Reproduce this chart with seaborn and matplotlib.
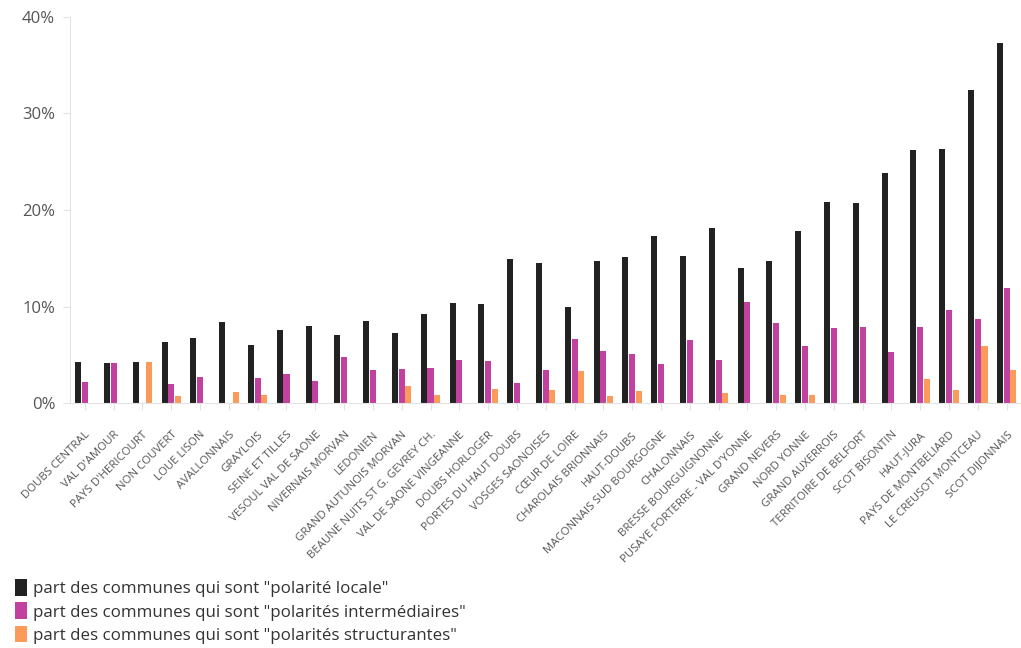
import numpy as np
import pandas as pd
import seaborn as sns
import matplotlib.pyplot as plt
from matplotlib.ticker import PercentFormatter

territoires = ["DOUBS CENTRAL", "VAL D'AMOUR", "PAYS D'HERICOURT", "NON COUVERT", "LOUE LISON",
               "AVALLONNAIS", "GRAYLOIS", "SEINE ET TILLES", "VESOUL VAL DE SAONE", "NIVERNAIS MORVAN",
               "LEDONIEN", "GRAND AUTUNOIS MORVAN", "BEAUNE NUITS ST G. GEVREY CH.", "VAL DE SAONE VINGEANNE",
               "DOUBS HORLOGER", "PORTES DU HAUT DOUBS", "VOSGES SAONOISES", "CŒUR DE LOIRE",
               "CHAROLAIS BRIONNAIS", "HAUT-DOUBS", "MACONNAIS SUD BOURGOGNE", "CHALONNAIS",
               "BRESSE BOURGUIGNONNE", "PUSAYE FORTERRE - VAL D'YONNE", "GRAND NEVERS", "NORD YONNE",
               "GRAND AUXERROIS", "TERRITOIRE DE BELFORT", "SCOT BISONTIN", "HAUT-JURA",
               "PAYS DE MONTBELIARD", "LE CREUSOT MONTCEAU", "SCOT DIJONNAIS"]

# valeurs en %
polarite_locale = [4.25, 4.15, 4.25, 6.36, 6.77, 8.36, 6.04, 7.56, 7.94, 7.05,
                   8.46, 7.29, 9.26, 10.36, 10.26, 14.89, 14.47, 9.98, 14.68, 15.16,
                   17.34, 15.27, 18.13, 13.99, 14.75, 17.86, 20.86, 20.76, 23.87, 26.25,
                   26.36, 32.4, 37.3]
polarites_intermediaires = [2.14, 4.15, 0.0, 1.97, 2.69, 0.0, 2.56, 2.97, 2.25, 4.77,
                            3.45, 3.56, 3.66, 4.46, 4.35, 2.04, 3.39, 6.67, 5.39, 5.08,
                            4.04, 6.56, 4.46, 10.47, 8.26, 5.94, 7.74, 7.84, 5.28, 7.84,
                            9.67, 8.74, 11.88]
polarites_structurantes = [0.0, 0.0, 4.25, 0.76, 0.0, 1.14, 0.86, 0.0, 0.0, 0.0,
                           0.0, 1.76, 0.86, 0.0, 1.45, 0.0, 1.38, 3.28, 0.76, 1.28,
                           0.0, 0.0, 1.04, 0.0, 0.83, 0.83, 0.0, 0.0, 0.0, 2.52,
                           1.38, 5.87, 3.39]

series = ['part des communes qui sont "polarité locale"',
          'part des communes qui sont "polarités intermédiaires"',
          'part des communes qui sont "polarités structurantes"']
colors = ['#222222', '#c0429e', '#fb9a5a']

df = pd.DataFrame({'territoire': territoires,
                   series[0]: polarite_locale,
                   series[1]: polarites_intermediaires,
                   series[2]: polarites_structurantes})
df = df.melt(id_vars='territoire', var_name='serie', value_name='part')

sns.set_style('white')
plt.rcParams['font.family'] = ['Open Sans', 'DejaVu Sans']

fig = plt.figure(figsize=(10.21, 6.48), dpi=100)
ax = fig.add_axes([0.069, 0.378, 0.931, 0.596])

sns.barplot(data=df, x='territoire', y='part', hue='serie', palette=colors,
            saturation=1, width=0.7, gap=0.1, linewidth=0, ax=ax)

ax.set_ylim(0, 40)
ax.set_xlim(-0.5, len(territoires) - 0.5)
ax.set_yticks([0, 10, 20, 30, 40])
ax.yaxis.set_major_formatter(PercentFormatter(decimals=0))
ax.set_xlabel('')
ax.set_ylabel('')

for s in ['top', 'right']:
    ax.spines[s].set_visible(False)
for s in ['left', 'bottom']:
    ax.spines[s].set_color('#e3e3e3')

ax.tick_params(axis='y', labelsize=12, colors='#e3e3e3', labelcolor='#555555',
               length=5, pad=6, left=True)
ax.tick_params(axis='x', labelsize=8.2, colors='#e3e3e3', labelcolor='#555555',
               length=5, pad=14, bottom=True)
for lab in ax.get_xticklabels():
    lab.set_rotation(45)
    lab.set_ha('right')
    lab.set_va('top')
    lab.set_rotation_mode('anchor')

sns.move_legend(ax, 'lower left', bbox_to_anchor=(0.008, -0.004), bbox_transform=fig.transFigure,
                title=None, frameon=False, fontsize=12.2, handlelength=0.7, handleheight=1.15,
                handletextpad=0.35, labelspacing=0.3, borderaxespad=0)
for t in ax.get_legend().get_texts():
    t.set_color('#333333')

fig.savefig('out.png', dpi=100)
